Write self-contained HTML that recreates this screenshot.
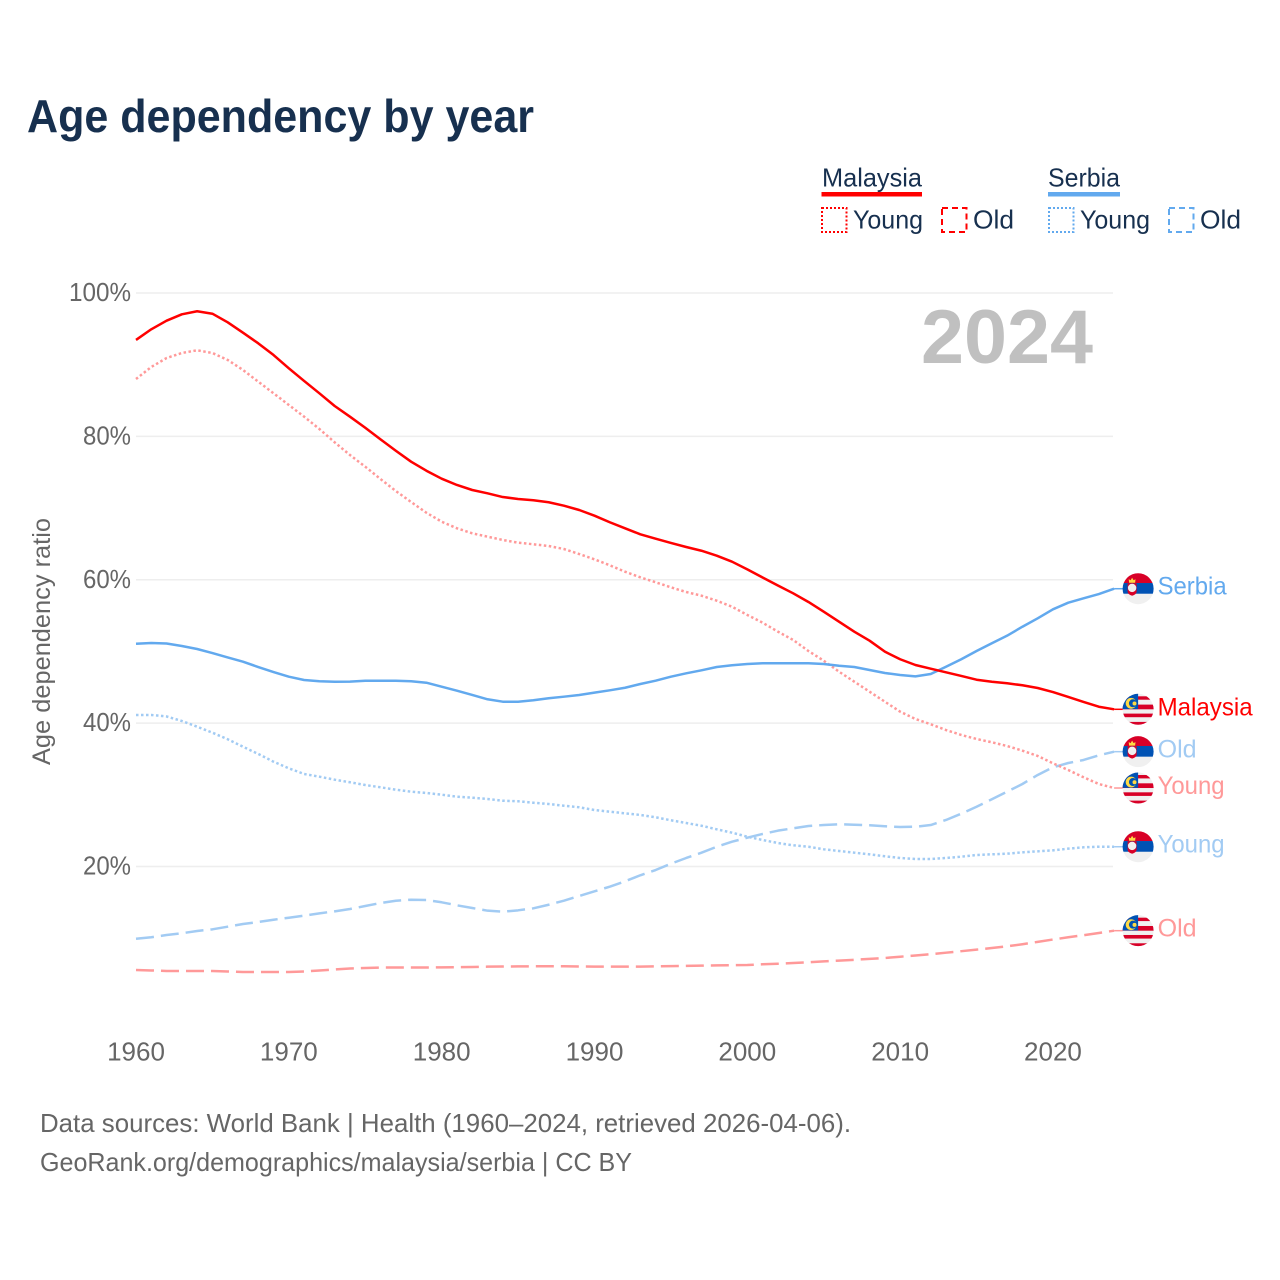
<!DOCTYPE html>
<html lang="en">
<head>
<meta charset="utf-8">
<title>Age dependency by year</title>
<style>
html,body{margin:0;padding:0;background:#fff;}
svg{display:block;font-family:"Liberation Sans",sans-serif;}
</style>
</head>
<body>
<svg id="chart" xmlns="http://www.w3.org/2000/svg" width="1280" height="1280" viewBox="0 0 1280 1280">
  <defs>
    <clipPath id="flag-clip"><circle cx="0" cy="0" r="15.5"/></clipPath>
    <g id="flag-my" clip-path="url(#flag-clip)">
      <rect x="-16" y="-16" width="32" height="32" fill="#f0f0f0"/>
      <rect x="-16" y="-13" width="32" height="3.4" fill="#d80027"/>
      <rect x="-16" y="-4.7" width="32" height="4.7" fill="#d80027"/>
      <rect x="-16" y="4.3" width="32" height="3.6" fill="#d80027"/>
      <rect x="-16" y="12.6" width="32" height="4" fill="#d80027"/>
      <rect x="-16" y="-16" width="16" height="15.8" fill="#0052b4"/>
      <circle cx="-7" cy="-6" r="5.4" fill="#ffda44"/>
      <circle cx="-5.2" cy="-6" r="4" fill="#0052b4"/>
      <circle cx="-3.6" cy="-5.8" r="2" fill="#ffda44"/>
    </g>
    <g id="flag-rs" clip-path="url(#flag-clip)">
      <rect x="-16" y="-16" width="32" height="10.5" fill="#d80027"/>
      <rect x="-16" y="-5.7" width="32" height="11" fill="#0052b4"/>
      <rect x="-16" y="5" width="32" height="11" fill="#f0f0f0"/>
      <path d="M-10.5 -5.5 L-1.5 -5.5 L-1.5 3 Q-1.5 5.5 -6 7 Q-10.5 5.5 -10.5 3 Z" fill="#d80027"/>
      <circle cx="-6" cy="-0.8" r="4.2" fill="#f0f0f0"/>
      <path d="M-9 -6 L-9.4 -9.5 L-7.5 -8.5 L-6 -11 L-4.5 -8.5 L-2.6 -9.5 L-3 -6 Z" fill="#ffda44"/>
    </g>
  </defs>

  <rect x="0" y="0" width="1280" height="1280" fill="#ffffff"/>

  <text x="27" y="132" font-size="46" font-weight="700" fill="#17304f" textLength="507" lengthAdjust="spacingAndGlyphs">Age dependency by year</text>

  <g>
    <text x="822" y="186.5" font-size="26" fill="#17304f" textLength="100" lengthAdjust="spacingAndGlyphs">Malaysia</text>
    <rect x="821.5" y="192" width="100.5" height="4.5" fill="#ff0000"/>
    <rect x="822" y="208" width="24.5" height="24" fill="none" stroke="#ff0000" stroke-width="2" stroke-dasharray="2 2"/>
    <text x="853" y="228.5" font-size="26" fill="#17304f" textLength="70" lengthAdjust="spacingAndGlyphs">Young</text>
    <rect x="942" y="208" width="24.5" height="24" fill="none" stroke="#ff0000" stroke-width="2" stroke-dasharray="6 4"/>
    <text x="973" y="228.5" font-size="26" fill="#17304f" textLength="41" lengthAdjust="spacingAndGlyphs">Old</text>

    <text x="1048" y="186.5" font-size="26" fill="#17304f" textLength="72" lengthAdjust="spacingAndGlyphs">Serbia</text>
    <rect x="1048" y="192" width="72" height="4.5" fill="#62a9ee"/>
    <rect x="1049" y="208" width="24.5" height="24" fill="none" stroke="#62a9ee" stroke-width="2" stroke-dasharray="2 2"/>
    <text x="1080" y="228.5" font-size="26" fill="#17304f" textLength="70" lengthAdjust="spacingAndGlyphs">Young</text>
    <rect x="1169" y="208" width="24.5" height="24" fill="none" stroke="#62a9ee" stroke-width="2" stroke-dasharray="6 4"/>
    <text x="1200" y="228.5" font-size="26" fill="#17304f" textLength="41" lengthAdjust="spacingAndGlyphs">Old</text>
  </g>

  <g id="grid"></g>
  <g id="y-ticks"></g>
  <g id="x-ticks"></g>

  <text transform="translate(50,765) rotate(-90)" x="0" y="0" font-size="25" fill="#666666" textLength="247" lengthAdjust="spacingAndGlyphs">Age dependency ratio</text>

  <text x="921" y="363" font-size="76" font-weight="700" fill="#c0c0c0" textLength="172" lengthAdjust="spacingAndGlyphs">2024</text>

  <g id="series"></g>
  <g id="end-labels"></g>

  <text x="40" y="1132" font-size="26" fill="#666666" textLength="811" lengthAdjust="spacingAndGlyphs">Data sources: World Bank | Health (1960–2024, retrieved 2026-04-06).</text>
  <text x="40" y="1171" font-size="26" fill="#666666" textLength="592" lengthAdjust="spacingAndGlyphs">GeoRank.org/demographics/malaysia/serbia | CC BY</text>
</svg>

<script>
var firstYear = 1960;
var xTickYears = [1960, 1970, 1980, 1990, 2000, 2010, 2020];
var yTickValues = [20, 40, 60, 80, 100];

var malaysiaTotal = [93.45,94.94,96.14,97.03,97.45,97.11,95.91,94.46,92.98,91.35,89.50,87.73,86.01,84.24,82.75,81.21,79.59,78.00,76.47,75.21,74.10,73.22,72.52,72.06,71.54,71.27,71.09,70.81,70.33,69.73,68.94,68.02,67.18,66.34,65.73,65.13,64.57,64.05,63.36,62.52,61.45,60.32,59.20,58.11,56.90,55.55,54.15,52.76,51.50,49.97,48.91,48.11,47.60,47.09,46.58,46.06,45.78,45.56,45.28,44.90,44.34,43.65,42.95,42.29,41.93];
var malaysiaYoung = [88.00,89.68,90.93,91.63,92.01,91.63,90.66,89.26,87.63,86.01,84.38,82.75,81.03,79.17,77.40,75.77,74.05,72.38,70.85,69.35,68.10,67.18,66.48,66.01,65.55,65.17,64.95,64.71,64.29,63.59,62.85,62.02,61.12,60.34,59.65,58.95,58.29,57.78,57.08,56.24,55.09,54.01,52.76,51.60,50.06,48.71,47.18,45.78,44.39,42.99,41.60,40.58,39.84,39.04,38.35,37.79,37.33,36.81,36.16,35.42,34.40,33.46,32.45,31.51,30.95];
var malaysiaOld = [5.57,5.50,5.43,5.43,5.43,5.43,5.36,5.29,5.29,5.29,5.29,5.36,5.50,5.64,5.78,5.85,5.91,5.91,5.91,5.91,5.94,5.96,5.98,6.03,6.05,6.07,6.08,6.08,6.08,6.05,6.04,6.03,6.03,6.04,6.07,6.11,6.14,6.18,6.21,6.24,6.26,6.36,6.44,6.54,6.65,6.77,6.88,6.99,7.11,7.24,7.42,7.59,7.77,7.98,8.19,8.41,8.63,8.87,9.16,9.49,9.82,10.13,10.42,10.73,11.05];
var serbiaTotal = [51.08,51.18,51.11,50.76,50.34,49.78,49.16,48.57,47.83,47.13,46.48,46.02,45.84,45.78,45.79,45.92,45.92,45.92,45.84,45.64,45.08,44.53,43.93,43.33,42.99,42.99,43.19,43.47,43.69,43.93,44.25,44.58,44.94,45.46,45.92,46.48,46.95,47.37,47.83,48.07,48.25,48.35,48.35,48.35,48.35,48.25,48.01,47.83,47.41,46.99,46.72,46.53,46.85,47.87,48.91,50.06,51.14,52.20,53.45,54.62,55.88,56.80,57.41,58.01,58.75];
var serbiaYoung = [41.14,41.14,40.93,40.30,39.50,38.67,37.75,36.71,35.70,34.62,33.70,32.91,32.53,32.11,31.75,31.37,31.05,30.72,30.44,30.26,30.02,29.74,29.60,29.42,29.18,29.10,28.90,28.72,28.48,28.26,27.88,27.65,27.42,27.19,26.87,26.45,26.07,25.69,25.19,24.72,24.16,23.70,23.28,22.96,22.76,22.40,22.17,21.93,21.70,21.43,21.19,21.05,21.05,21.19,21.37,21.61,21.70,21.79,21.98,22.12,22.26,22.49,22.68,22.76,22.76];
var serbiaOld = [9.93,10.13,10.45,10.69,11.01,11.24,11.61,11.98,12.26,12.58,12.86,13.14,13.47,13.75,14.07,14.49,14.91,15.23,15.37,15.33,15.01,14.59,14.21,13.84,13.70,13.89,14.17,14.67,15.23,15.89,16.54,17.19,17.94,18.78,19.51,20.39,21.19,21.93,22.76,23.46,24.02,24.54,25.00,25.33,25.65,25.79,25.89,25.83,25.75,25.61,25.51,25.55,25.79,26.49,27.37,28.34,29.38,30.44,31.51,32.77,33.84,34.44,34.86,35.51,36.02];

var SVG_NS = 'http://www.w3.org/2000/svg';

function xScale(year) { return 136 + (year - 1960) * 15.283; }
function yScale(value) { return 1009.9 - value * 7.169; }

function drawSeries(values, color, dash, flagId, labelText, labelColor, labelWidth, seriesName) {
  var seriesGroup = document.getElementById('series');
  var labelGroup = document.getElementById('end-labels');
  var points = [];
  for (var i = 0; i < values.length; i++) {
    points.push(xScale(firstYear + i).toFixed(2) + ',' + yScale(values[i]).toFixed(2));
  }
  var line = document.createElementNS(SVG_NS, 'polyline');
  
  
  line.setAttribute('points', points.join(' '));
  line.setAttribute('fill', 'none');
  line.setAttribute('stroke', color);
  line.setAttribute('stroke-width', '2.5');
  line.setAttribute('stroke-linejoin', 'round');
  if (dash) { line.setAttribute('stroke-dasharray', dash); }
  seriesGroup.appendChild(line);

  var lastYear = firstYear + values.length - 1;
  var lastX = xScale(lastYear);
  var lastY = yScale(values[values.length - 1]);

  var connector = document.createElementNS(SVG_NS, 'line');
  
  
  connector.setAttribute('x1', lastX);
  connector.setAttribute('x2', lastX + 9);
  connector.setAttribute('y1', lastY);
  connector.setAttribute('y2', lastY);
  connector.setAttribute('stroke', color);
  connector.setAttribute('stroke-width', '1.5');
  seriesGroup.appendChild(connector);

  var flag = document.createElementNS(SVG_NS, 'use');
  
  
  flag.setAttribute('href', '#' + flagId);
  flag.setAttribute('transform', 'translate(' + (lastX + 24) + ',' + lastY + ')');
  labelGroup.appendChild(flag);

  var label = document.createElementNS(SVG_NS, 'text');
  
  
  label.setAttribute('x', lastX + 43.5);
  label.setAttribute('y', lastY + 6);
  label.setAttribute('font-size', '25');
  label.setAttribute('fill', labelColor);
  label.setAttribute('textLength', labelWidth);
  label.setAttribute('lengthAdjust', 'spacingAndGlyphs');
  label.textContent = labelText;
  labelGroup.appendChild(label);
}

yTickValues.forEach(function (value) {
  var grid = document.createElementNS(SVG_NS, 'line');
  
  
  grid.setAttribute('x1', xScale(1960));
  grid.setAttribute('x2', 1113);
  grid.setAttribute('y1', yScale(value));
  grid.setAttribute('y2', yScale(value));
  grid.setAttribute('stroke', '#eeeeee');
  grid.setAttribute('stroke-width', '1.5');
  document.getElementById('grid').appendChild(grid);

  var text = document.createElementNS(SVG_NS, 'text');
  
  
  text.setAttribute('x', 131);
  text.setAttribute('y', yScale(value) + 8);
  text.setAttribute('text-anchor', 'end');
  text.setAttribute('font-size', '26');
  text.setAttribute('fill', '#666666');
  text.setAttribute('textLength', value === 100 ? 62 : 48);
  text.setAttribute('lengthAdjust', 'spacingAndGlyphs');
  text.textContent = value + '%';
  document.getElementById('y-ticks').appendChild(text);
});

xTickYears.forEach(function (year) {
  var text = document.createElementNS(SVG_NS, 'text');
  
  
  text.setAttribute('x', xScale(year));
  text.setAttribute('y', 1060.5);
  text.setAttribute('text-anchor', 'middle');
  text.setAttribute('font-size', '26');
  text.setAttribute('fill', '#666666');
  text.textContent = year;
  document.getElementById('x-ticks').appendChild(text);
});

drawSeries(malaysiaOld, '#ff9999', '18 7', 'flag-my', 'Old', '#ff9999', 39, 'malaysia-old');
drawSeries(serbiaOld, '#a2cbf3', '18 7', 'flag-rs', 'Old', '#a2cbf3', 39, 'serbia-old');
drawSeries(malaysiaYoung, '#ff9999', '2.5 2.5', 'flag-my', 'Young', '#ff9999', 67, 'malaysia-young');
drawSeries(serbiaYoung, '#a2cbf3', '2.5 2.5', 'flag-rs', 'Young', '#a2cbf3', 67, 'serbia-young');
drawSeries(serbiaTotal, '#62a9ee', null, 'flag-rs', 'Serbia', '#62a9ee', 69, 'serbia-total');
drawSeries(malaysiaTotal, '#ff0000', null, 'flag-my', 'Malaysia', '#ff0000', 95, 'malaysia-total');
</script>
</body>
</html>
